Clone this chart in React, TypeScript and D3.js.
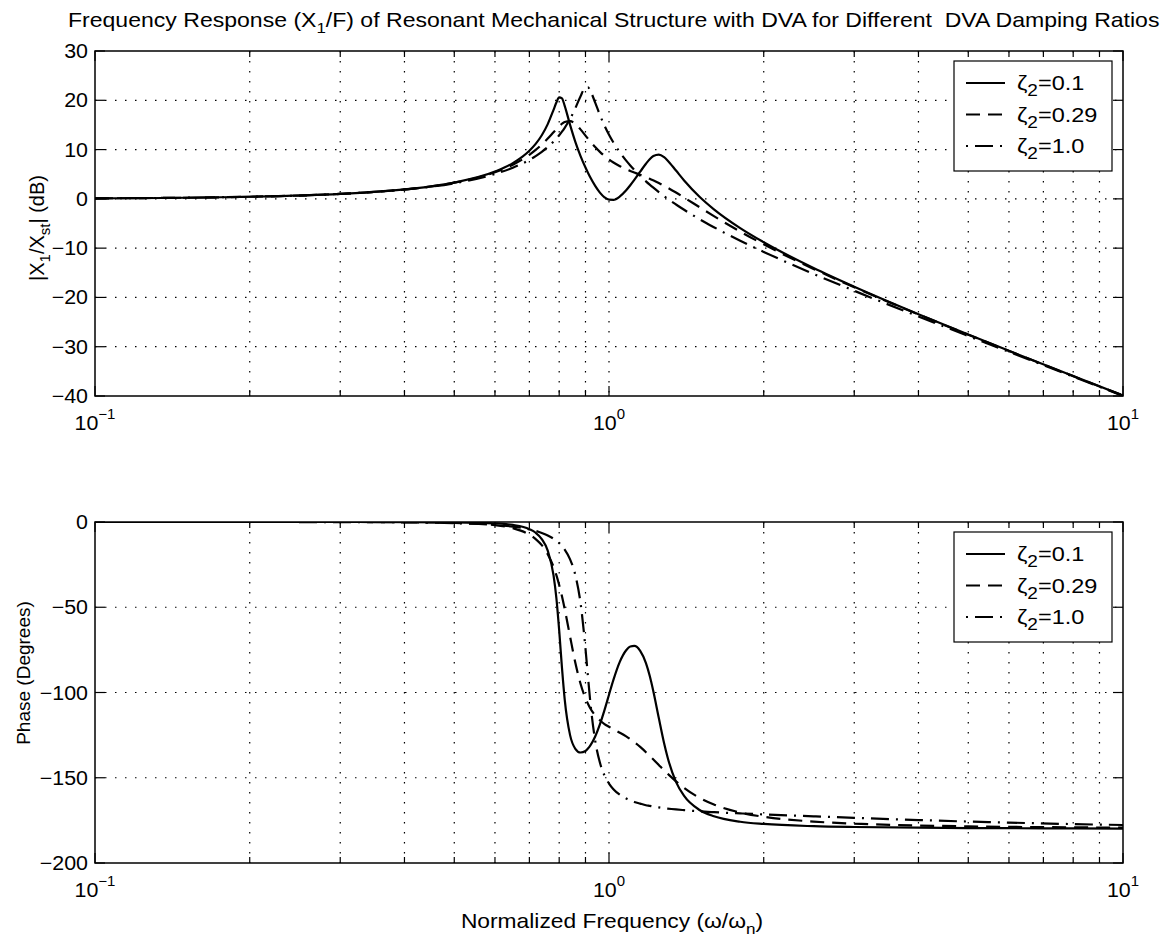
import React from 'react';
import * as d3 from 'd3';

// Normalized frequency samples (omega / omega_n)
const freq = [0.1, 0.2, 0.3, 0.4, 0.5, 0.6, 0.65, 0.7, 0.72, 0.74, 0.76, 0.78, 0.79, 0.8, 0.81, 0.82, 0.84, 0.86, 0.88, 0.9, 0.91, 0.92, 0.94, 0.96, 0.98, 1.0, 1.02, 1.05, 1.08, 1.1, 1.12, 1.15, 1.18, 1.2, 1.22, 1.25, 1.28, 1.3, 1.35, 1.4, 1.5, 1.6, 1.8, 2.0, 2.5, 3, 4, 5, 6, 8, 10];

// Magnitude |X1/Xst| in dB
const magZeta01 = [0.1, 0.43, 1.01, 1.92, 3.3, 5.53, 7.24, 9.75, 11.15, 12.9, 15.17, 18.06, 19.55, 20.6, 20.4, 18.87, 15.01, 11.57, 8.73, 6.35, 5.3, 4.32, 2.62, 1.26, 0.32, -0.17, -0.19, 0.5, 1.75, 2.76, 3.84, 5.52, 7.13, 8.04, 8.69, 8.99, 8.45, 7.79, 5.74, 3.73, 0.43, -2.12, -5.93, -8.8, -14.03, -17.83, -23.4, -27.53, -30.83, -35.96, -39.9];
const magZeta029 = [0.1, 0.43, 1.01, 1.91, 3.28, 5.4, 6.93, 8.94, 9.92, 11.03, 12.24, 13.52, 14.15, 14.74, 15.24, 15.61, 15.79, 15.2, 14.1, 12.84, 12.21, 11.61, 10.5, 9.53, 8.7, 7.99, 7.38, 6.63, 6.02, 5.67, 5.34, 4.87, 4.39, 4.07, 3.73, 3.21, 2.65, 2.27, 1.28, 0.27, -1.69, -3.51, -6.64, -9.23, -14.21, -17.93, -23.45, -27.56, -30.85, -35.97, -39.9];
const magZeta10 = [0.1, 0.43, 1.01, 1.89, 3.17, 5.05, 6.32, 7.91, 8.68, 9.54, 10.51, 11.62, 12.24, 12.91, 13.63, 14.42, 16.23, 18.39, 20.78, 22.6, 22.6, 21.89, 19.54, 17.03, 14.86, 13.01, 11.43, 9.43, 7.75, 6.77, 5.87, 4.65, 3.56, 2.89, 2.26, 1.37, 0.56, 0.04, -1.14, -2.22, -4.12, -5.75, -8.5, -10.77, -15.22, -18.65, -23.87, -27.83, -31.04, -36.08, -39.97];

// Phase in degrees
const phZeta01 = [0, 0, 0, -0.04, -0.18, -0.8, -1.7, -4.2, -6.3, -10.0, -16.8, -31.3, -44.6, -63.6, -85.4, -104.0, -125.0, -133.0, -135.2, -134.3, -132.9, -131.0, -125.8, -118.7, -110.3, -101.3, -92.6, -81.9, -75.2, -73.0, -72.7, -75.6, -82.8, -90.2, -99.4, -115.0, -129.8, -138.0, -152.4, -160.7, -168.9, -172.6, -175.8, -177.1, -178.4, -178.9, -179.3, -179.5, -179.6, -179.7, -179.8];
const phZeta029 = [0, 0, 0, -0.1, -0.5, -1.8, -3.6, -7.4, -10.0, -13.6, -18.9, -26.3, -31.2, -37.0, -43.6, -51.0, -67.2, -82.6, -94.7, -103.4, -106.6, -109.4, -113.4, -116.3, -118.5, -120.1, -121.6, -123.6, -125.7, -127.3, -129.1, -131.9, -135.0, -137.2, -139.3, -142.5, -145.7, -147.6, -152.1, -156.0, -161.8, -165.7, -170.4, -172.9, -175.7, -176.9, -178.0, -178.5, -178.8, -179.1, -179.3];
const phZeta10 = [0, 0, -0.05, -0.2, -0.7, -1.7, -2.7, -4.3, -5.2, -6.4, -7.9, -9.8, -11.0, -12.4, -14.1, -16.2, -21.9, -31.1, -47.2, -74.2, -90.6, -106.0, -128.3, -141.1, -148.7, -153.4, -156.7, -160.0, -162.2, -163.3, -164.2, -165.2, -166.1, -166.5, -166.9, -167.4, -167.9, -168.1, -168.6, -169.0, -169.7, -170.2, -170.9, -171.5, -172.6, -173.5, -174.8, -175.7, -176.3, -177.2, -177.7];

const zetaLabels = ['0.1', '0.29', '1.0'];
const magTicks = [30, 20, 10, 0, -10, -20, -30, -40];
const phaseTicks = [0, -50, -100, -150, -200];
const xMajor = [0.1, 1, 10];
const xExponents = ['−1', '0', '1'];
const xMinor = [0.2, 0.3, 0.4, 0.5, 0.6, 0.7, 0.8, 0.9, 2, 3, 4, 5, 6, 7, 8, 9];

const FONT = "'Liberation Sans', Arial, Helvetica, sans-serif";
const DASH = '14,8';
const DASHDOT = '18,7,2,7';
const styles = [
  { dash: undefined as string | undefined, off: 0 },
  { dash: DASH, off: 0 },
  { dash: DASHDOT, off: 25 },
];

const W = 1170;
const H = 938;
const xL = 95;
const xR = 1123;

const x = d3.scaleLog().domain([0.1, 10]).range([xL, xR]);

function fmtNum(v: number) {
  return v < 0 ? '−' + Math.abs(v) : String(v);
}

function SText({ x: tx, y: ty, sx = 1, anchor = 'start', size, rotate = 0, children }: { x: number; y: number; sx?: number; anchor?: string; size: number; rotate?: number; children: React.ReactNode }) {
  return (
    <text
      transform={`translate(${tx},${ty}) rotate(${rotate}) scale(${sx},1)`}
      textAnchor={anchor as any}
      fontSize={size}
      fontFamily={FONT}
      style={{ whiteSpace: 'pre' }}
    >
      {children}
    </text>
  );
}

function Panel({ y, top, bot, ticks, data, id }: { y: d3.ScaleLinear<number, number>; top: number; bot: number; ticks: number[]; data: number[][]; id: string }) {
  const line = (vals: number[]) =>
    d3.line<number>().x((_, i) => x(freq[i])).y((v) => y(v)).curve(d3.curveMonotoneX)(vals) || '';
  const majorLen = 10;
  const minorLen = 6;
  const lx0 = 954;
  const ly0 = top + 10;
  return (
    <g>
      <defs>
        <clipPath id={id}>
          <rect x={xL} y={top} width={xR - xL} height={bot - top} />
        </clipPath>
      </defs>
      {ticks.filter((t) => y(t) > top + 1 && y(t) < bot - 1).map((t) => (
        <line key={'gy' + t} x1={xL} x2={xR} y1={y(t)} y2={y(t)} stroke="#000" strokeWidth={1.2} strokeDasharray="1.5,8.5" />
      ))}
      {[...xMinor, 1].map((f) => (
        <line key={'gx' + f} x1={x(f)} x2={x(f)} y1={top} y2={bot} stroke="#000" strokeWidth={1.2} strokeDasharray="1.5,8.5" />
      ))}
      {ticks.map((t) => (
        <g key={'ty' + t}>
          <line x1={xL} x2={xL + majorLen} y1={y(t)} y2={y(t)} stroke="#000" strokeWidth={1.2} />
          <line x1={xR} x2={xR - majorLen} y1={y(t)} y2={y(t)} stroke="#000" strokeWidth={1.2} />
          <SText x={xL - 7} y={y(t) + 7} anchor="end" size={20} sx={1.07}>
            {fmtNum(t)}
          </SText>
        </g>
      ))}
      {xMajor.map((f) => (
        <g key={'tx' + f}>
          <line x1={x(f)} x2={x(f)} y1={bot} y2={bot - majorLen} stroke="#000" strokeWidth={1.2} />
          <line x1={x(f)} x2={x(f)} y1={top} y2={top + majorLen} stroke="#000" strokeWidth={1.2} />
        </g>
      ))}
      {xMinor.map((f) => (
        <g key={'tm' + f}>
          <line x1={x(f)} x2={x(f)} y1={bot} y2={bot - minorLen} stroke="#000" strokeWidth={1.2} />
          <line x1={x(f)} x2={x(f)} y1={top} y2={top + minorLen} stroke="#000" strokeWidth={1.2} />
        </g>
      ))}
      {xMajor.map((f, i) => (
        <SText key={'xl' + f} x={x(f)} y={bot + 34} anchor="middle" size={20} sx={1.07}>
          10
          <tspan dy={-11} fontSize={14}>{xExponents[i]}</tspan>
        </SText>
      ))}
      <g clipPath={`url(#${id})`}>
        {data.map((vals, i) => (
          <path key={'c' + i} d={line(vals)} fill="none" stroke="#000" strokeWidth={2.2} strokeDasharray={styles[i].dash} />
        ))}
      </g>
      <rect x={xL} y={top} width={xR - xL} height={bot - top} fill="none" stroke="#000" strokeWidth={1.5} />
      <rect x={lx0} y={ly0} width={158} height={110} fill="#fff" stroke="#000" strokeWidth={1.2} />
      {zetaLabels.map((lab, i) => {
        const ry = ly0 + 22 + i * 31.5;
        return (
          <g key={'lg' + i}>
            <line x1={lx0 + 12} x2={lx0 + 51} y1={ry} y2={ry} stroke="#000" strokeWidth={2.2} strokeDasharray={styles[i].dash} strokeDashoffset={styles[i].off} />
            <SText x={lx0 + 63} y={ry + 7} size={21} sx={1.12}>
              ζ
              <tspan dy={6} fontSize={17}>2</tspan>
              <tspan dy={-6}>={lab}</tspan>
            </SText>
          </g>
        );
      })}
    </g>
  );
}

export default function App() {
  const top1 = 51;
  const bot1 = 396;
  const top2 = 522;
  const bot2 = 863;
  const yM = d3.scaleLinear().domain([-40, 30]).range([bot1, top1]);
  const yP = d3.scaleLinear().domain([-200, 0]).range([bot2, top2]);
  return (
    <svg width={W} height={H} style={{ position: 'absolute', left: 0, top: 0, background: '#fff' }}>
      <rect width={W} height={H} fill="#fff" />
      <SText x={68} y={27} size={20.5} sx={1.125}>
        Frequency Response (X
        <tspan dy={6} fontSize={15}>1</tspan>
        <tspan dy={-6}>{'/F) of Resonant Mechanical Structure with DVA for Different  DVA Damping Ratios'}</tspan>
      </SText>
      <Panel y={yM} top={top1} bot={bot1} ticks={magTicks} data={[magZeta01, magZeta029, magZeta10]} id="clipTop" />
      <Panel y={yP} top={top2} bot={bot2} ticks={phaseTicks} data={[phZeta01, phZeta029, phZeta10]} id="clipBot" />
      <SText x={44} y={228} rotate={-90} anchor="middle" size={20}>
        |X
        <tspan dy={6} fontSize={15}>1</tspan>
        <tspan dy={-6}>/X</tspan>
        <tspan dy={6} fontSize={15}>st</tspan>
        <tspan dy={-6}>| (dB)</tspan>
      </SText>
      <SText x={30} y={673} rotate={-90} anchor="middle" size={19}>
        Phase (Degrees)
      </SText>
      <SText x={612} y={928} anchor="middle" size={20} sx={1.14}>
        Normalized Frequency (ω/ω
        <tspan dy={6} fontSize={15}>n</tspan>
        <tspan dy={-6}>)</tspan>
      </SText>
    </svg>
  );
}
